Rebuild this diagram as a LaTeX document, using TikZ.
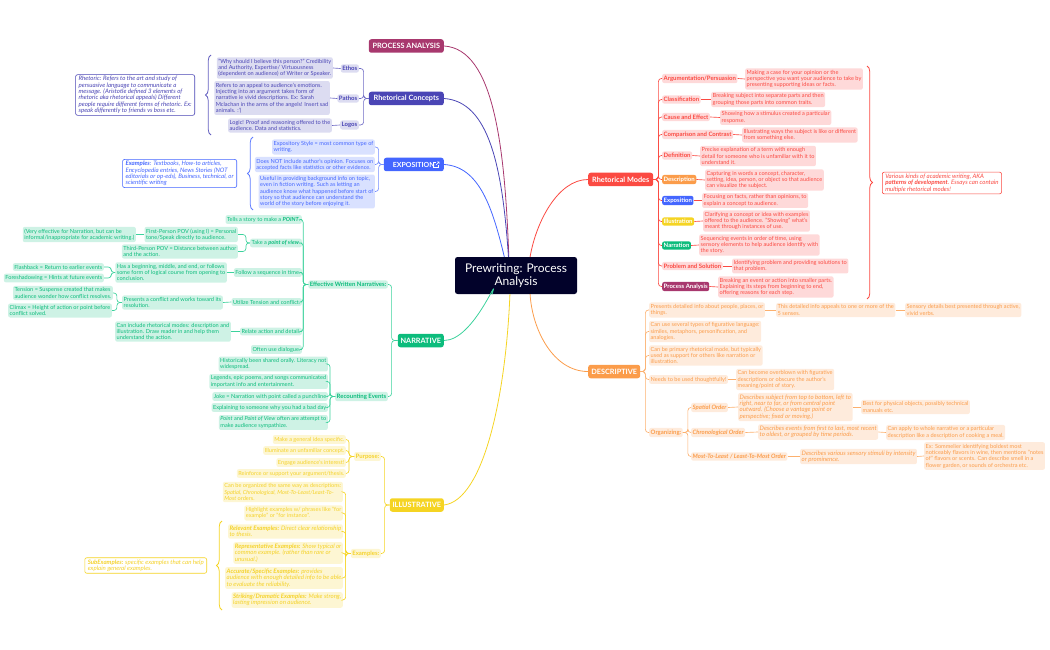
\documentclass[tikz,border=0pt]{standalone}
\usepackage{fontspec}
\setmainfont{Lato}
\usepackage{xcolor}
\usetikzlibrary{decorations.pathreplacing}

\definecolor{DarkCore}{HTML}{02022A}
\definecolor{MaroonMain}{HTML}{A8386E}
\definecolor{PurpleMain}{HTML}{4A45B5}
\definecolor{PurplePale}{HTML}{DCDCF1}
\definecolor{BlueMain}{HTML}{4466FF}
\definecolor{BluePale}{HTML}{D9E1FF}
\definecolor{GreenMain}{HTML}{0CBC7C}
\definecolor{GreenLine}{HTML}{3CD29C}
\definecolor{GreenPale}{HTML}{CEF2E5}
\definecolor{YellowMain}{HTML}{F5D423}
\definecolor{YellowText}{HTML}{F5D22A}
\definecolor{YellowPale}{HTML}{FDF6D3}
\definecolor{RedMain}{HTML}{FB4A42}
\definecolor{RedPale}{HTML}{FED9D9}
\definecolor{OrangeMain}{HTML}{FB9C4A}
\definecolor{OrangePale}{HTML}{FEEBDC}

\newcommand{\leaffont}{\fontsize{5.6}{6.3}\selectfont}
\newcommand{\italfont}{\fontsize{6.1}{6.3}\selectfont\itshape}
\newcommand{\bldfont}{\fontsize{6}{6.3}\selectfont\bfseries}

\tikzset{
    leaf/.style={rounded corners=2pt, inner xsep=1.5pt, inner ysep=1.8pt, align=left, font=\leaffont},
    ital/.style={font=\italfont},
    bld/.style={font=\bldfont},
    bldital/.style={font=\bldfont\itshape},
    pleaf/.style={leaf, fill=PurplePale, text=PurpleMain},
    bleaf/.style={leaf, fill=BluePale, text=BlueMain},
    gleaf/.style={leaf, fill=GreenPale, text=GreenMain},
    yleaf/.style={leaf, fill=YellowPale, text=YellowText},
    rleaf/.style={leaf, fill=RedPale, text=RedMain},
    oleaf/.style={leaf, fill=OrangePale, text=OrangeMain},
    topic/.style={rounded corners=2.5pt, text=white, minimum height=13.5pt, inner sep=0pt, font=\fontsize{7.3}{8}\selectfont\bfseries},
    note/.style={leaf, ital, fill=white, draw, line width=.6pt, inner xsep=3pt},
    wire/.style={line width=.65pt, rounded corners=3pt},
    curl/.style={line width=.8pt, decorate, decoration={brace, amplitude=5.5pt}},
}

\begin{document}
\begin{tikzpicture}[x=1pt, y=-1pt]
    \useasboundingbox (0,0) rectangle (1050,650);

    \node[rounded corners=2.5pt, fill=DarkCore, text=white, align=center, minimum width=122pt, minimum height=37pt, inner sep=0pt, font=\fontsize{12}{13.6}\selectfont] (core) at (516,275.5) {Prewriting: Process\\Analysis};

    \node[topic, fill=MaroonMain, minimum width=75pt, anchor=east] (process) at (444,46) {PROCESS ANALYSIS};
    \node[topic, fill=PurpleMain, minimum width=75pt, anchor=east] (concepts) at (444,98.5) {Rhetorical Concepts};
    \node[topic, fill=BlueMain, minimum width=60pt, anchor=east] (exposition) at (444,164.5) {\fontsize{7}{8}\selectfont EXPOSITION\hspace{17pt}};
    \node[topic, fill=GreenMain, minimum width=46pt, anchor=east] (narrative) at (444,340.5) {NARRATIVE};
    \node[topic, fill=YellowMain, minimum width=54pt, anchor=east] (illustrative) at (444,505) {ILLUSTRATIVE};
    \node[topic, fill=RedMain, minimum width=65pt, anchor=west] (modes) at (588,179.5) {Rhetorical Modes};
    \node[topic, fill=OrangeMain, minimum width=52pt, anchor=west] (descriptive) at (588,371.5) {DESCRIPTIVE};

    \draw[white, line width=.5pt] (436,162.5) -- (433.5,162.5) -- (433.5,167.5) -- (438.5,167.5) -- (438.5,165);
    \draw[white, line width=.5pt] (436,165) -- (439,162) (437,162) -- (439,162) -- (439,164);

    \draw[MaroonMain, line width=.8pt] (process.east) .. controls +(50,3) and +(-4,-110) .. (core.111);
    \draw[PurpleMain, line width=.8pt] (concepts.east) .. controls +(45,3) and +(-6,-90) .. (core.112);
    \draw[BlueMain, line width=.8pt] (exposition.east) .. controls +(35,2) and +(-12,-50) .. (core.122);
    \draw[GreenLine, line width=.8pt] (narrative.east) .. controls +(30,0) and +(8,-25) .. (core.218);
    \draw[YellowMain, line width=.8pt] (illustrative.east) .. controls +(40,-5) and +(-4,100) .. (core.252);
    \draw[RedMain, line width=.8pt] (modes.west) .. controls +(-30,0) and +(6,-35) .. (core.53);
    \draw[OrangeMain, line width=.8pt] (descriptive.west) .. controls +(-35,0) and +(2,35) .. (core.307);

    \node[pleaf, bld, anchor=east] (ethos) at (359,68.5) {Ethos};
    \node[pleaf, bld, anchor=east] (pathos) at (359,98.5) {Pathos};
    \node[pleaf, bld, anchor=east] (logos) at (359,125) {Logos};
    \node[pleaf, anchor=east] (credible) at (333,68) {"Why should I believe this person?" Credibility\\and Authority, Expertise/ Virtuousness\\(dependent on audience) of Writer or Speaker.};
    \node[pleaf, anchor=east] (appeal) at (330,98) {Refers to an appeal to audience's emotions.\\Injecting into an argument takes form of\\narrative ie vivid descriptions. Ex: Sarah\\Mclachan in the arms of the angels! Insert sad\\animals. :'(};
    \node[pleaf, anchor=east] (logic) at (332,125.5) {Logic! Proof and reasoning offered to the\\audience. Data and statistics.};
    \node[note, draw=PurpleMain, text=PurpleMain, anchor=east] (rhetoric) at (195,95) {Rhetoric: Refers to the art and study of\\persuasive language to communicate a\\message. (Aristotle defined 3 elements of\\rhetoric aka rhetorical appeals) Different\\people require different forms of rhetoric. Ex:\\speak differently to friends vs boss etc.};
    \foreach \kid in {ethos,pathos,logos}
        \draw[PurpleMain!80, wire] (concepts.west) -- ++(-5,0) |- (\kid.east);
    \draw[PurpleMain!80, wire] (ethos.west) -- (credible.east);
    \draw[PurpleMain!80, wire] (pathos.west) -- (appeal.east);
    \draw[PurpleMain!80, wire] (logos.west) -- (logic.east);
    \coordinate (rhetbot) at (211,135);
    \coordinate (rhettop) at (211,55);
    \draw[PurpleMain!85, curl] (rhetbot) -- (rhettop);

    \node[bleaf, anchor=east] (common) at (375,147) {Expository Style = most common type of\\writing.};
    \node[bleaf, anchor=east] (facts) at (375,164.5) {Does NOT include author's opinion. Focuses on\\accepted facts like statistics or other evidence.};
    \node[bleaf, anchor=east] (background) at (375,191.5) {Useful in providing background info on topic,\\even in fiction writing. Such as letting an\\audience know what happened before start of\\story so that audience can understand the\\world of the story before enjoying it.};
    \node[note, draw=BlueMain, text=BlueMain, anchor=east] (textbooks) at (237,173.5) {\textbf{Examples}: Textbooks, How-to articles,\\Encyclopedia entries, News Stories (NOT\\editorials or op-eds), Business, technical, or\\scientific writing};
    \foreach \kid in {common,facts,background}
        \draw[BlueMain!75, wire] (exposition.west) -- ++(-5,0) |- (\kid.east);
    \coordinate (expobot) at (253,210);
    \coordinate (expotop) at (253,137);
    \draw[BlueMain!85, curl] (expobot) -- (expotop);

    \node[gleaf, bld, anchor=east] (effective) at (388,284.5) {Effective Written Narratives:};
    \node[gleaf, bld, anchor=east] (recount) at (388,396.5) {Recounting Events};
    \foreach \kid in {effective,recount}
        \draw[GreenLine, wire] (narrative.west) -- ++(-6,0) |- (\kid.east);

    \node[gleaf, anchor=east] (tells) at (302,219.5) {Tells a story to make a \textbf{\textit{POINT}}.};
    \node[gleaf, anchor=east] (take) at (302,243) {Take a \textbf{\textit{point of view}}.};
    \node[gleaf, anchor=east] (follow) at (302,272.5) {Follow a sequence in time.};
    \node[gleaf, anchor=east] (utilize) at (302,302) {Utilize Tension and conflict.};
    \node[gleaf, anchor=east] (relate) at (302,331.5) {Relate action and detail.};
    \node[gleaf, anchor=east] (dialogue) at (302,349.5) {Often use dialogue.};
    \foreach \kid in {tells,take,follow,utilize,relate,dialogue}
        \draw[GreenLine, wire] (effective.west) -- ++(-5,0) |- (\kid.east);

    \node[gleaf, anchor=east] (first) at (238,234.5) {First-Person POV (using I) = Personal\\tone/Speak directly to audience.};
    \node[gleaf, anchor=east] (third) at (238,251.5) {Third-Person POV = Distance between author\\and the action.};
    \node[gleaf, anchor=east] (informal) at (136,234.5) {(Very effective for Narration, but can be\\informal/inappropriate for academic writing.)};
    \foreach \kid in {first,third}
        \draw[GreenLine, wire] (take.west) -- ++(-4,0) |- (\kid.east);
    \draw[GreenLine, wire] (first.west) -- (informal.east);

    \node[gleaf, anchor=east] (course) at (227,272.5) {Has a beginning, middle, and end, or follows\\some form of logical course from opening to\\conclusion.};
    \node[gleaf, anchor=east] (flashback) at (104,267) {Flashback = Return to earlier events};
    \node[gleaf, anchor=east] (foreshadow) at (104,278) {Foreshadowing = Hints at future events};
    \draw[GreenLine, wire] (follow.west) -- (course.east);
    \foreach \kid in {flashback,foreshadow}
        \draw[GreenLine, wire] (course.west) -- ++(-4,0) |- (\kid.east);

    \node[gleaf, anchor=east] (conflict) at (223,302.5) {Presents a conflict and works toward its\\resolution.};
    \node[gleaf, anchor=east] (tension) at (113,293) {Tension = Suspense created that makes\\audience wonder how conflict resolves.};
    \node[gleaf, anchor=east] (climax) at (112,310.5) {Climax = Height of action or point before\\conflict solved.};
    \draw[GreenLine, wire] (utilize.west) -- (conflict.east);
    \foreach \kid in {tension,climax}
        \draw[GreenLine, wire] (conflict.west) -- ++(-5,0) |- (\kid.east);

    \node[gleaf, anchor=east] (modesuse) at (231,331.5) {Can include rhetorical modes: description and\\illustration. Draw reader in and help them\\understand the action.};
    \draw[GreenLine, wire] (relate.west) -- (modesuse.east);

    \node[gleaf, anchor=east] (orally) at (328,364) {Historically been shared orally. Literacy not\\widespread.};
    \node[gleaf, anchor=east] (legends) at (328,381.5) {Legends, epic poems, and songs communicated\\important info and entertainment.};
    \node[gleaf, anchor=east] (joke) at (328,396.5) {Joke = Narration with point called a punchline};
    \node[gleaf, anchor=east] (badday) at (328,407.5) {Explaining to someone why you had a bad day};
    \node[gleaf, anchor=east] (sympathy) at (328,422.5) {\textit{Point} and \textit{Point of View} often are attempt to\\make audience sympathize.};
    \foreach \kid in {orally,legends,joke,badday,sympathy}
        \draw[GreenLine, wire] (recount.west) -- ++(-5,0) |- (\kid.east);

    \node[yleaf, bld, anchor=east] (purpose) at (381,456.5) {Purpose:};
    \node[yleaf, bld, anchor=east] (examples) at (381,553.5) {Examples:};
    \foreach \kid in {purpose,examples}
        \draw[YellowMain, wire] (illustrative.west) -- ++(-5,0) |- (\kid.east);

    \node[yleaf, anchor=east] (specific) at (346,439.5) {Make a general idea specific.};
    \node[yleaf, anchor=east] (illuminate) at (346,450.5) {Illuminate an unfamiliar concept.};
    \node[yleaf, anchor=east] (engage) at (346,462.5) {Engage audience's interest!};
    \node[yleaf, anchor=east] (reinforce) at (346,473.5) {Reinforce or support your argument/thesis.};
    \foreach \kid in {specific,illuminate,engage,reinforce}
        \draw[YellowMain, wire] (purpose.west) -- ++(-5,0) |- (\kid.east);

    \node[yleaf, anchor=east] (organized) at (343,492) {Can be organized the same way as descriptions:\\\textit{Spatial, Chronological, Most-To-Least/Least-To-}\\\textit{Most} orders.};
    \node[yleaf, anchor=east] (highlight) at (343,513) {Highlight examples w/ phrases like "for\\example" or "for instance".};
    \node[yleaf, ital, anchor=east] (relevant) at (343,531.5) {\textbf{Relevant Examples:} Direct clear relationship\\to thesis.};
    \node[yleaf, ital, anchor=east] (typical) at (343,553) {\textbf{Representative Examples:} Show typical or\\common example. (rather than rare or\\unusual.)};
    \node[yleaf, ital, anchor=east] (accurate) at (343,578) {\textbf{Accurate/Specific Examples:} provides\\audience with enough detailed info to be able\\to evaluate the reliability.};
    \node[yleaf, ital, anchor=east] (striking) at (343,600) {\textbf{Striking/Dramatic Examples:} Make strong,\\lasting impression on audience.};
    \foreach \kid in {organized,highlight,relevant,typical,accurate,striking}
        \draw[YellowMain, wire] (examples.west) -- ++(-5,0) |- (\kid.east);
    \node[note, draw=YellowMain, text=YellowText, anchor=east] (subex) at (207,565.5) {\textbf{SubExamples:} specific examples that can help\\explain general examples.};
    \coordinate (subbot) at (222,610);
    \coordinate (subtop) at (222,521);
    \draw[YellowMain, curl] (subbot) -- (subtop);

    \node[rleaf, bld, anchor=west] (argue) at (662,78.5) {Argumentation/Persuasion};
    \node[rleaf, bld, anchor=west] (classify) at (662,99.5) {Classification};
    \node[rleaf, bld, anchor=west] (cause) at (662,117) {Cause and Effect};
    \node[rleaf, bld, anchor=west] (compare) at (662,134.5) {Comparison and Contrast};
    \node[rleaf, bld, anchor=west] (define) at (662,155.5) {Definition};
    \node[leaf, bld, fill=OrangeMain, text=white, anchor=west] (mdescr) at (662,179.5) {Description};
    \node[leaf, bld, fill=BlueMain, text=white, anchor=west] (mexpo) at (662,200.5) {Exposition};
    \node[leaf, bld, fill=YellowMain, text=white, anchor=west] (millus) at (662,221.5) {Illustration};
    \node[leaf, bld, fill=GreenMain, text=white, anchor=west] (mnarr) at (662,245.5) {Narration};
    \node[rleaf, bld, anchor=west] (problem) at (662,266) {Problem and Solution};
    \node[leaf, bld, fill=MaroonMain, text=white, anchor=west] (mproc) at (662,286.5) {Process Analysis};
    \foreach \kid in {argue,classify,cause,compare,define,mdescr,mexpo,millus,mnarr,problem,mproc}
        \draw[RedMain, wire] (modes.east) -- ++(5,0) |- (\kid.west);

    \node[rleaf, anchor=west] (argued) at (745,79) {Making a case for your opinion or the\\perspective you want your audience to take by\\presenting supporting ideas or facts.};
    \node[rleaf, anchor=west] (classifyd) at (711,99.5) {Breaking subject into separate parts and then\\grouping those parts into common traits.};
    \node[rleaf, anchor=west] (caused) at (720,117.5) {Showing how a stimulus created a particular\\response.};
    \node[rleaf, anchor=west] (compared) at (742,135) {Illustrating ways the subject is like or different\\from something else.};
    \node[rleaf, anchor=west] (defined) at (700,156) {Precise explanation of a term with enough\\detail for someone who is unfamiliar with it to\\understand it.};
    \node[rleaf, anchor=west] (mdescrd) at (705,180) {Capturing in words a concept, character,\\setting, idea, person, or object so that audience\\can visualize the subject.};
    \node[rleaf, anchor=west] (mexpod) at (702,200.5) {Focusing on facts, rather than opinions, to\\explain a concept to audience.};
    \node[rleaf, anchor=west] (millusd) at (703,221) {Clarifying a concept or idea with examples\\offered to the audience. "Showing" what's\\meant through instances of use.};
    \node[rleaf, anchor=west] (mnarrd) at (699,245) {Sequencing events in order of time, using\\sensory elements to help audience identify with\\the story.};
    \node[rleaf, anchor=west] (problemd) at (732,266) {Identifying problem and providing solutions to\\that problem.};
    \node[rleaf, anchor=west] (mprocd) at (718,287) {Breaking an event or action into smaller parts.\\Explaining its steps from beginning to end,\\offering reasons for each step.};
    \foreach \kid/\txt in {argue/argued,classify/classifyd,cause/caused,compare/compared,define/defined,mdescr/mdescrd,mexpo/mexpod,millus/millusd,mnarr/mnarrd,problem/problemd,mproc/mprocd}
        \draw[RedMain, wire] (\kid.east) -- (\txt.west);

    \coordinate (modestop) at (867,66);
    \coordinate (modesbot) at (867,299);
    \draw[RedMain, curl] (modestop) -- (modesbot);
    \node[note, draw=RedMain, text=RedMain, anchor=west] (academic) at (882,183) {Various kinds of academic writing, AKA\\\textbf{patterns of development}. Essays can contain\\multiple rhetorical modes!};

    \node[oleaf, anchor=west] (detailed) at (649,310) {Presents detailed info about people, places, or\\things.};
    \node[oleaf, anchor=west] (figurative) at (649,331.5) {Can use several types of figurative language:\\similes, metaphors, personification, and\\analogies.};
    \node[oleaf, anchor=west] (primary) at (649,355.5) {Can be primary rhetorical mode, but typically\\used as support for others like narration or\\illustration.};
    \node[oleaf, anchor=west] (needs) at (649,379.5) {Needs to be used thoughtfully!};
    \node[oleaf, bld, anchor=west] (organizing) at (649,432.5) {Organizing:};
    \foreach \kid in {detailed,figurative,primary,needs,organizing}
        \draw[OrangeMain!80, wire] (descriptive.east) -- ++(5,0) |- (\kid.west);

    \node[oleaf, anchor=west] (senses) at (776,310) {This detailed info appeals to one or more of the\\5 senses.};
    \node[oleaf, anchor=west] (vivid) at (905,310) {Sensory details best presented through active,\\vivid verbs.};
    \node[oleaf, anchor=west] (overblown) at (736,379.5) {Can become overblown with figurative\\descriptions or obscure the author's\\meaning/point of story.};
    \draw[OrangeMain!80, wire] (detailed.east) -- (senses.west);
    \draw[OrangeMain!80, wire] (senses.east) -- (vivid.west);
    \draw[OrangeMain!80, wire] (needs.east) -- (overblown.west);

    \node[oleaf, bldital, anchor=west] (spatial) at (691,407.5) {Spatial Order};
    \node[oleaf, bldital, anchor=west] (chrono) at (691,432.5) {Chronological Order};
    \node[oleaf, bldital, anchor=west] (most) at (691,456.5) {Most-To-Least / Least-To-Most Order};
    \foreach \kid in {spatial,chrono,most}
        \draw[OrangeMain!80, wire] (organizing.east) -- ++(5,0) |- (\kid.west);

    \node[oleaf, ital, anchor=west] (spatiald) at (738,407) {Describes subject from top to bottom, left to\\right, near to far, or from central point\\outward. (Choose a vantage point or\\perspective; fixed or moving.)};
    \node[oleaf, anchor=west] (manuals) at (861,407) {Best for physical objects, possibly technical\\manuals etc.};
    \node[oleaf, ital, anchor=west] (chronod) at (758,432) {Describes events from first to last, most recent\\to oldest, or grouped by time periods.};
    \node[oleaf, anchor=west] (cooking) at (886,432.5) {Can apply to whole narrative or a particular\\description like a description of cooking a meal.};
    \node[oleaf, ital, anchor=west] (mostd) at (800,456.5) {Describes various sensory stimuli by intensity\\or prominence.};
    \node[oleaf, anchor=west] (sommelier) at (924,456) {Ex: Sommelier identifying boldest most\\noticeably flavors in wine, then mentions "notes\\of" flavors or scents. Can describe smell in a\\flower garden, or sounds of orchestra etc.};
    \draw[OrangeMain!80, wire] (spatial.east) -- (spatiald.west);
    \draw[OrangeMain!80, wire] (spatiald.east) -- (manuals.west);
    \draw[OrangeMain!80, wire] (chrono.east) -- (chronod.west);
    \draw[OrangeMain!80, wire] (chronod.east) -- (cooking.west);
    \draw[OrangeMain!80, wire] (most.east) -- (mostd.west);
    \draw[OrangeMain!80, wire] (mostd.east) -- (sommelier.west);
\end{tikzpicture}
\end{document}
